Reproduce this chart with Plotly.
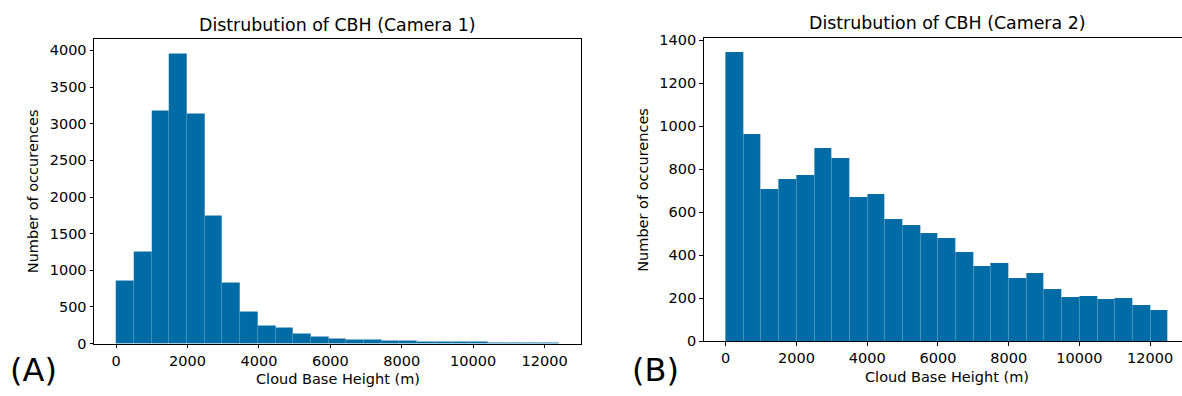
import plotly.graph_objects as go

# ---------------- data ----------------
cam1_counts = [860, 1255, 3180, 3960, 3130, 1750, 830, 430, 250, 213, 128, 90,
               66, 54, 53, 40, 40, 22, 21, 21, 20, 14, 13, 13, 12]
cam1_bin_start = 0
cam1_bin_width = 496

cam2_counts = [1343, 965, 706, 756, 772, 898, 850, 672, 684, 566, 541, 505,
               481, 415, 351, 362, 294, 317, 244, 205, 209, 197, 203, 168, 145]
cam2_bin_start = 0
cam2_bin_width = 500

x_ticks = [0, 2000, 4000, 6000, 8000, 10000, 12000]
x_tick_labels = ["0", "2000", "4000", "6000", "8000", "10000", "12000"]
y1_ticks = [0, 500, 1000, 1500, 2000, 2500, 3000, 3500, 4000]
y2_ticks = [0, 200, 400, 600, 800, 1000, 1200, 1400]

titles = ["Distrubution of CBH (Camera 1)", "Distrubution of CBH (Camera 2)"]
x_title = "Cloud Base Height (m)"
y_title = "Number of occurences"
panel_labels = ["(A)", "(B)"]

# ---------------- layout helpers ----------------
W, H = 1182, 396
def px(x):
    return x / W
def py(y):
    return 1 - y / H

BAR = "#006BA4"
FONT = "DejaVu Sans"
TICK_SIZE = 14.5
LABEL_SIZE = 14.5
TITLE_SIZE = 17.4

def centers(start, width, n):
    return [start + width * (i + 0.5) for i in range(n)]

fig = go.Figure()
fig.add_trace(go.Bar(
    x=centers(cam1_bin_start, cam1_bin_width, len(cam1_counts)),
    y=cam1_counts, width=cam1_bin_width,
    marker=dict(color=BAR, line=dict(color="rgba(255,255,255,0.12)", width=0.5)),
    xaxis="x", yaxis="y", showlegend=False, hoverinfo="x+y"))
fig.add_trace(go.Bar(
    x=centers(cam2_bin_start, cam2_bin_width, len(cam2_counts)),
    y=cam2_counts, width=cam2_bin_width,
    marker=dict(color=BAR, line=dict(color="rgba(255,255,255,0.12)", width=0.5)),
    xaxis="x2", yaxis="y2", showlegend=False, hoverinfo="x+y"))

axis_common = dict(
    showgrid=False, zeroline=False, showline=True, linecolor="black", linewidth=1,
    ticks="outside", ticklen=3.5, tickwidth=0.8, tickcolor="black",
    tickfont=dict(family=FONT, size=TICK_SIZE, color="black"),
)

fig.update_layout(
    width=W, height=H,
    margin=dict(l=0, r=0, t=0, b=0),
    paper_bgcolor="white", plot_bgcolor="white",
    bargap=0,
    font=dict(family=FONT, size=TICK_SIZE, color="black"),
    xaxis=dict(domain=[px(94), px(581)], range=[-620, 13020],
               tickvals=x_ticks, ticktext=x_tick_labels,
               anchor="y", mirror=True, **axis_common),
    yaxis=dict(domain=[py(350), py(34)], range=[0, 4158],
               tickvals=y1_ticks, ticktext=[str(v) for v in y1_ticks],
               anchor="x", mirror=True, **axis_common),
    xaxis2=dict(domain=[px(703.6), 1.0], range=[-625, 12900],
                tickvals=x_ticks, ticktext=x_tick_labels,
                anchor="y2", mirror=True, **axis_common),
    yaxis2=dict(domain=[py(347.7), py(33.4)], range=[0, 1410],
                tickvals=y2_ticks, ticktext=[str(v) for v in y2_ticks],
                anchor="x2", mirror=False, **axis_common),
)

ann = []
ann.append(dict(text=titles[0], x=px(337.5), y=py(19.5), font=dict(size=TITLE_SIZE)))
ann.append(dict(text=titles[1], x=px(947), y=py(17.5), font=dict(size=TITLE_SIZE)))
ann.append(dict(text=x_title, x=px(337.5), y=py(387), font=dict(size=LABEL_SIZE)))
ann.append(dict(text=x_title, x=px(947), y=py(385), font=dict(size=LABEL_SIZE)))
ann.append(dict(text=y_title, x=px(33), y=py(192), textangle=-90, font=dict(size=LABEL_SIZE)))
ann.append(dict(text=y_title, x=px(643), y=py(190.5), textangle=-90, font=dict(size=LABEL_SIZE)))
ann.append(dict(text=panel_labels[0], x=px(33.5), y=py(377), font=dict(size=32)))
ann.append(dict(text=panel_labels[1], x=px(655), y=py(377), font=dict(size=32)))

for a in ann:
    a.update(xref="paper", yref="paper", showarrow=False,
             xanchor="center", yanchor="middle")
    a["font"].update(family=FONT, color="black")
fig.update_layout(annotations=ann)

fig.write_html("out.html")
